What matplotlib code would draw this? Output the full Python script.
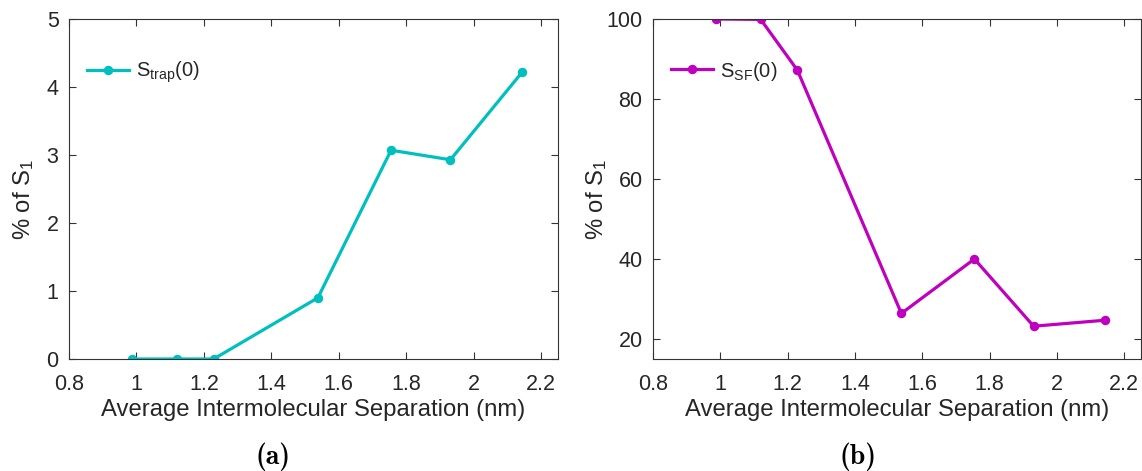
import matplotlib
matplotlib.use("Agg")
import matplotlib.pyplot as plt

plt.rcParams['font.family'] = ['Liberation Sans', 'DejaVu Sans']
plt.rcParams['mathtext.default'] = 'regular'

# Average intermolecular separation (nm)
separation = [0.988, 1.12, 1.229, 1.538, 1.755, 1.931, 2.144]
# Population fractions (% of S1)
s_trap = [0.0, 0.0, 0.0, 0.90, 3.07, 2.93, 4.22]
s_sf = [100.0, 99.9, 87.2, 26.4, 40.0, 23.2, 24.7]

x_ticks = [0.8, 1.0, 1.2, 1.4, 1.6, 1.8, 2.0, 2.2]
x_tick_labels = ['0.8', '1', '1.2', '1.4', '1.6', '1.8', '2', '2.2']
y_ticks_a = [0, 1, 2, 3, 4, 5]
y_ticks_b = [20, 40, 60, 80, 100]

W, H = 1142, 471
fig = plt.figure(figsize=(W / 100, H / 100), dpi=100)

def px_axes(left, top, right, bottom):
    return fig.add_axes([left / W, 1 - bottom / H, (right - left) / W, (bottom - top) / H])

ax_a = px_axes(69, 19, 558, 359)
ax_b = px_axes(653, 19, 1141, 359)

text_color = '#262626'
spine_color = '#333333'

panels = [
    (ax_a, s_trap, '#00BFBF', r'S$_{trap}$(0)', (0, 5), y_ticks_a, '(a)', 273, -0.067),
    (ax_b, s_sf, '#BF00BF', r'S$_{SF}$(0)', (15, 100), y_ticks_b, '(b)', 858, -0.090),
]

for ax, values, color, label, ylim, yticks, tag, tag_x, ylab_x in panels:
    ax.plot(separation, values, '-o', color=color, lw=2.3, ms=5.8, label=label)
    ax.set_xlim(0.8, 2.25)
    ax.set_ylim(*ylim)
    ax.set_xticks(x_ticks)
    ax.set_xticklabels(x_tick_labels)
    ax.set_yticks(yticks)
    ax.tick_params(direction='in', length=5, width=0.8, colors=spine_color,
                   labelcolor=text_color, labelsize=15.5,
                   top=True, right=True)
    ax.tick_params(axis='x', pad=10.5)
    ax.tick_params(axis='y', pad=7.5)
    for sp in ax.spines.values():
        sp.set_color(spine_color)
        sp.set_linewidth(0.8)
    ax.set_xlabel('Average Intermolecular Separation (nm)', fontsize=17.2,
                  color=text_color, labelpad=3.5)
    ax.set_ylabel(r'% of S$_1$', fontsize=17.2, color=text_color)
    ax.yaxis.set_label_coords(ylab_x, 0.47)
    leg = ax.legend(loc='upper left', frameon=False, fontsize=14.5,
                    handlelength=2.1, handletextpad=0.35,
                    bbox_to_anchor=(-0.005, 0.94), borderaxespad=0.6)
    for t in leg.get_texts():
        t.set_color(text_color)
    fig.text(tag_x / W, 1 - 457 / H, tag, ha='center', va='center',
             fontsize=20, fontfamily='cmb10', color='black')

fig.savefig('out.png', dpi=100)
